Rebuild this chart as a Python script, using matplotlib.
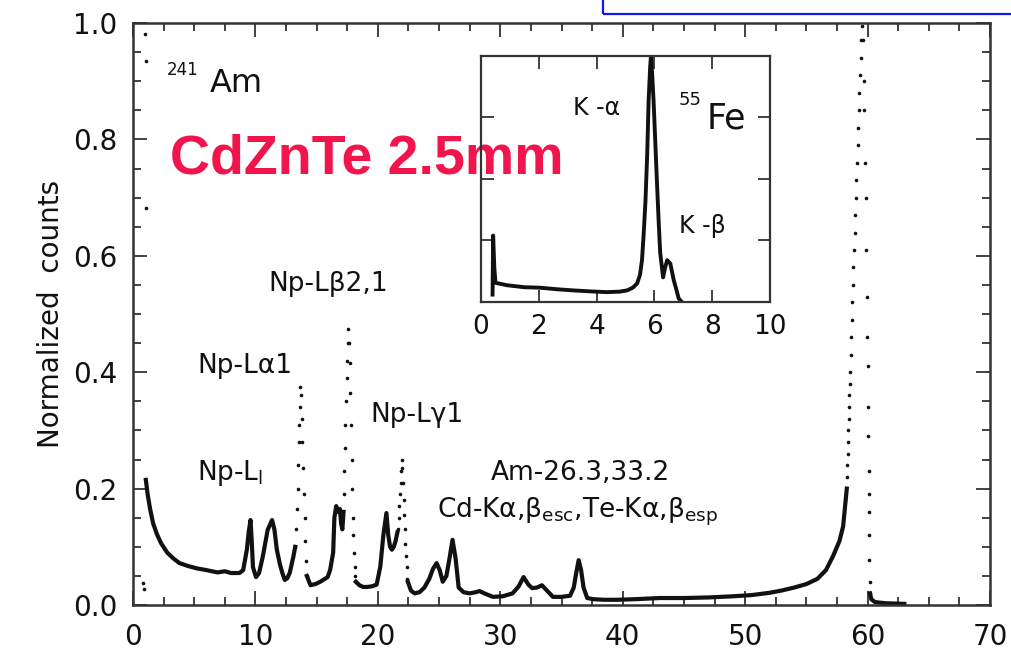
import numpy as np
import matplotlib
matplotlib.use("Agg")
import matplotlib.pyplot as plt
from matplotlib.patches import Rectangle
from matplotlib.ticker import MultipleLocator, FormatStrFormatter

plt.rcParams['font.family'] = ['DejaVu Sans']
plt.rcParams['mathtext.default'] = 'regular'

nan = np.nan

# 241Am spectrum, continuum drawn as a line (nan = gap where the peak is drawn as dots)
line_e = [1.05, 1.2, 1.4, 1.65, 1.95, 2.3, 2.8, 3.3, 3.8, 4.5, 5.2, 6.0, 6.9, 7.5, 8.0, 8.7,
          9.0, 9.3, 9.45, 9.6, 9.7, 9.8, 10.05, 10.3, 10.6, 11.0, 11.36, 11.55, 11.75, 12.0,
          12.2, 12.4, 12.6, 12.8, 13.1, 13.25,
          nan,
          14.2, 14.5, 14.9, 15.3, 15.6, 15.9, 16.1, 16.2, 16.35, 16.45, 16.6, 16.75, 16.9,
          17.0, 17.1, 17.2,
          nan,
          18.2, 18.5, 18.8, 19.1, 19.5, 19.9, 20.2, 20.45, 20.7, 20.85, 21.0, 21.15, 21.3,
          21.45, 21.6,
          nan,
          22.45, 22.7, 23.0, 23.4, 23.8, 24.2, 24.5, 24.8, 25.05, 25.3, 25.6, 25.85, 26.1,
          26.35, 26.6, 27.0, 27.5, 28.0, 28.3, 28.7, 29.4, 30.2, 31.0, 31.5, 31.9, 32.3,
          32.6, 33.0, 33.4, 33.8, 34.3, 35.0, 35.7, 36.0, 36.2, 36.4, 36.6, 36.8, 37.1,
          37.6, 38.5, 39.5, 41.0, 43.0, 45.0, 47.0, 49.0, 50.5, 52.0, 53.0, 54.0, 55.0,
          55.9, 56.6, 57.2, 57.7, 58.0, 58.3,
          nan,
          60.2, 60.3, 60.6, 61.5, 63.0]
line_c = [0.215, 0.19, 0.165, 0.14, 0.122, 0.106, 0.09, 0.08, 0.072, 0.067, 0.063, 0.060,
          0.056, 0.058, 0.055, 0.055, 0.06, 0.095, 0.125, 0.146, 0.11, 0.065, 0.048, 0.055,
          0.083, 0.129, 0.146, 0.13, 0.095, 0.07, 0.055, 0.043, 0.046, 0.055, 0.083, 0.10,
          nan,
          0.05, 0.034, 0.036, 0.04, 0.044, 0.048, 0.06, 0.072, 0.09, 0.15, 0.17, 0.16, 0.165,
          0.14, 0.13, 0.16,
          nan,
          0.04, 0.034, 0.031, 0.031, 0.032, 0.035, 0.066, 0.12, 0.158, 0.12, 0.1, 0.095,
          0.1, 0.11, 0.125,
          nan,
          0.04, 0.025, 0.02, 0.022, 0.03, 0.045, 0.062, 0.072, 0.06, 0.04, 0.05, 0.08,
          0.112, 0.08, 0.03, 0.022, 0.02, 0.022, 0.024, 0.02, 0.014, 0.015, 0.02, 0.032,
          0.048, 0.035, 0.029, 0.03, 0.034, 0.025, 0.014, 0.014, 0.016, 0.03, 0.055, 0.077,
          0.06, 0.03, 0.012, 0.01, 0.009, 0.009, 0.01, 0.012, 0.012, 0.013, 0.015, 0.017,
          0.021, 0.025, 0.03, 0.036, 0.045, 0.06, 0.085, 0.11, 0.135, 0.2,
          nan,
          0.02, 0.01, 0.005, 0.003, 0.002]

# steep peaks where single channels show up as separate dots
dot_e = [0.82, 0.98, 1.06, 1.06, 0.9,
         13.25, 13.32, 13.38, 13.44, 13.5, 13.55, 13.6, 13.64, 13.68,
         13.74, 13.79, 13.84, 13.9, 13.96, 14.02, 14.08, 14.14, 14.2,
         17.2, 17.25, 17.3, 17.35, 17.4, 17.45, 17.5, 17.55, 17.6,
         17.66, 17.7, 17.75, 17.8, 17.85, 17.9, 17.95, 18.0, 18.05, 18.1, 18.15, 18.2,
         21.65, 21.7, 21.75, 21.8, 21.85, 21.9, 21.95,
         22.0, 22.05, 22.1, 22.15, 22.2, 22.25, 22.3, 22.35, 22.4,
         58.30, 58.33, 58.36, 58.39, 58.42, 58.45, 58.48, 58.51, 58.54, 58.57, 58.61,
         58.65, 58.69, 58.73, 58.78, 58.83, 58.88, 58.93, 58.98, 59.03, 59.08, 59.13,
         59.18, 59.23, 59.28, 59.33, 59.38, 59.43, 59.48, 59.53,
         59.62, 59.68, 59.7, 59.78, 59.85, 59.88, 59.95, 59.98, 60.0, 60.02, 60.06,
         60.08, 60.1, 60.12, 60.13, 60.15, 60.18, 60.2]
dot_c = [0.038, 0.981, 0.935, 0.683, 0.028,
         0.10, 0.13, 0.165, 0.2, 0.24, 0.28, 0.31, 0.34, 0.375,
         0.36, 0.32, 0.28, 0.235, 0.19, 0.15, 0.11, 0.075, 0.05,
         0.19, 0.23, 0.27, 0.31, 0.35, 0.39, 0.42, 0.45, 0.475,
         0.45, 0.415, 0.365, 0.31, 0.25, 0.2, 0.15, 0.12, 0.09, 0.065, 0.05, 0.04,
         0.13, 0.15, 0.17, 0.19, 0.21, 0.23, 0.25,
         0.235, 0.21, 0.18, 0.155, 0.13, 0.105, 0.085, 0.065, 0.045,
         0.22, 0.24, 0.26, 0.28, 0.30, 0.32, 0.34, 0.36, 0.38, 0.40, 0.43,
         0.46, 0.49, 0.52, 0.55, 0.58, 0.61, 0.64, 0.67, 0.70, 0.73, 0.76,
         0.79, 0.82, 0.85, 0.88, 0.91, 0.94, 0.97, 0.995,
         0.97, 0.90, 0.85, 0.76, 0.70, 0.61, 0.53, 0.46, 0.41, 0.34, 0.29,
         0.23, 0.19, 0.16, 0.12, 0.077, 0.039, 0.02]

# 55Fe inset spectrum
fe_e = [0.40, 0.42, 0.46, 0.5, 0.9, 1.5, 2.05, 2.6, 3.2, 3.8, 4.36, 4.8, 5.05, 5.25, 5.4,
        5.5, 5.57, 5.63, 5.69, 5.75, 5.8, 5.85, 5.88, 5.92, 5.97, 6.03, 6.09, 6.15, 6.2,
        6.3, 6.37, 6.44, 6.55, 6.67, 6.76, 6.84, 6.95]
fe_c = [0.03, 0.27, 0.14, 0.078, 0.068, 0.06, 0.058, 0.052, 0.047, 0.043, 0.04, 0.042,
        0.047, 0.058, 0.075, 0.11, 0.17, 0.28, 0.41, 0.6, 0.82, 0.95, 1.0, 0.93, 0.82,
        0.65, 0.48, 0.32, 0.2, 0.1, 0.14, 0.17, 0.156, 0.088, 0.05, 0.014, 0.0]

main_xticks = [0, 10, 20, 30, 40, 50, 60, 70]
main_yticks = [0.0, 0.2, 0.4, 0.6, 0.8, 1.0]
inset_xticks = [0, 2, 4, 6, 8, 10]
inset_yticks = [0.25, 0.5, 0.75]

ink = '#111111'

fig = plt.figure(figsize=(10.12, 6.65), dpi=100)
ax = fig.add_axes([0.1314, 0.0902, 0.8469, 0.8752])

ax.plot(line_e, line_c, '-', color=ink, lw=3.0, solid_joinstyle='round')
ax.plot(dot_e, dot_c, 'o', color=ink, ms=2.6, mew=0)

ax.set_xlim(0, 70)
ax.set_ylim(0, 1.0)
ax.set_xticks(main_xticks)
ax.set_yticks(main_yticks)
ax.yaxis.set_major_formatter(FormatStrFormatter('%.1f'))
ax.xaxis.set_minor_locator(MultipleLocator(2.5))
ax.yaxis.set_minor_locator(MultipleLocator(0.05))
ax.tick_params(which='both', direction='in', top=True, right=True, colors='#333333',
               labelcolor=ink, width=1.3)
ax.tick_params(which='major', length=10, labelsize=20)
ax.tick_params(which='minor', length=5.5)
ax.tick_params(axis='x', pad=13)
ax.tick_params(axis='y', pad=11)
for s in ax.spines.values():
    s.set_linewidth(1.8)
    s.set_color('#333333')
ax.set_ylabel('Normalized  counts', fontsize=20, color=ink, labelpad=6)

# annotations
ax.text(2.78, 0.911, '241', fontsize=12, color=ink, va='baseline')
ax.text(6.3, 0.881, 'Am', fontsize=23, color=ink, va='baseline')
ax.text(3.0, 0.742, 'CdZnTe 2.5mm', fontsize=40, color='#f2144c', fontweight='bold',
        family='Liberation Sans', va='baseline', zorder=1)
ax.text(11.03, 0.539, 'Np-L\u03b22,1', fontsize=19, color=ink, va='baseline')
ax.text(5.23, 0.398, 'Np-L\u03b11', fontsize=19, color=ink, va='baseline')
ax.text(19.36, 0.315, 'Np-L\u03b31', fontsize=19, color=ink, va='baseline')
ax.text(5.23, 0.215, 'Np-L$_l$', fontsize=19, color=ink, va='baseline')
ax.text(29.2, 0.215, 'Am-26.3,33.2', fontsize=19, color=ink, va='baseline')
ax.text(24.8, 0.151, r'Cd-K$\alpha$,$\beta_{esc}$,Te-K$\alpha$,$\beta_{esp}$',
        fontsize=19, color=ink, va='baseline')

# inset with the 55Fe spectrum
ins = fig.add_axes([0.4753, 0.5459, 0.2856, 0.3699])
ins.set_facecolor('none')
ins.plot(fe_e, fe_c, '-', color=ink, lw=2.8, solid_joinstyle='round')
ins.set_xlim(0, 10)
ins.set_ylim(0, 1.0)
ins.set_xticks(inset_xticks)
ins.set_yticks(inset_yticks)
ins.set_yticklabels([])
ins.tick_params(which='both', direction='in', top=True, right=True, colors='#333333',
                labelcolor=ink, width=1.3, length=9, labelsize=19, pad=9)
for s in ins.spines.values():
    s.set_linewidth(1.6)
    s.set_color('#333333')
ins.text(3.18, 0.76, 'K -\u03b1', fontsize=17, color=ink, va='baseline')
ins.text(6.85, 0.28, 'K -\u03b2', fontsize=17, color=ink, va='baseline')
ins.text(6.85, 0.80, '55', fontsize=13, color=ink, va='baseline')
ins.text(7.8, 0.705, 'Fe', fontsize=25, color=ink, va='baseline')

# edge of the neighbouring panel at the top
fig.patches.append(Rectangle((0.5958, 0.979), 0.6, 0.2, transform=fig.transFigure,
                             fill=False, edgecolor='#1414f0', lw=1.6))

fig.savefig('out.png', dpi=100)
